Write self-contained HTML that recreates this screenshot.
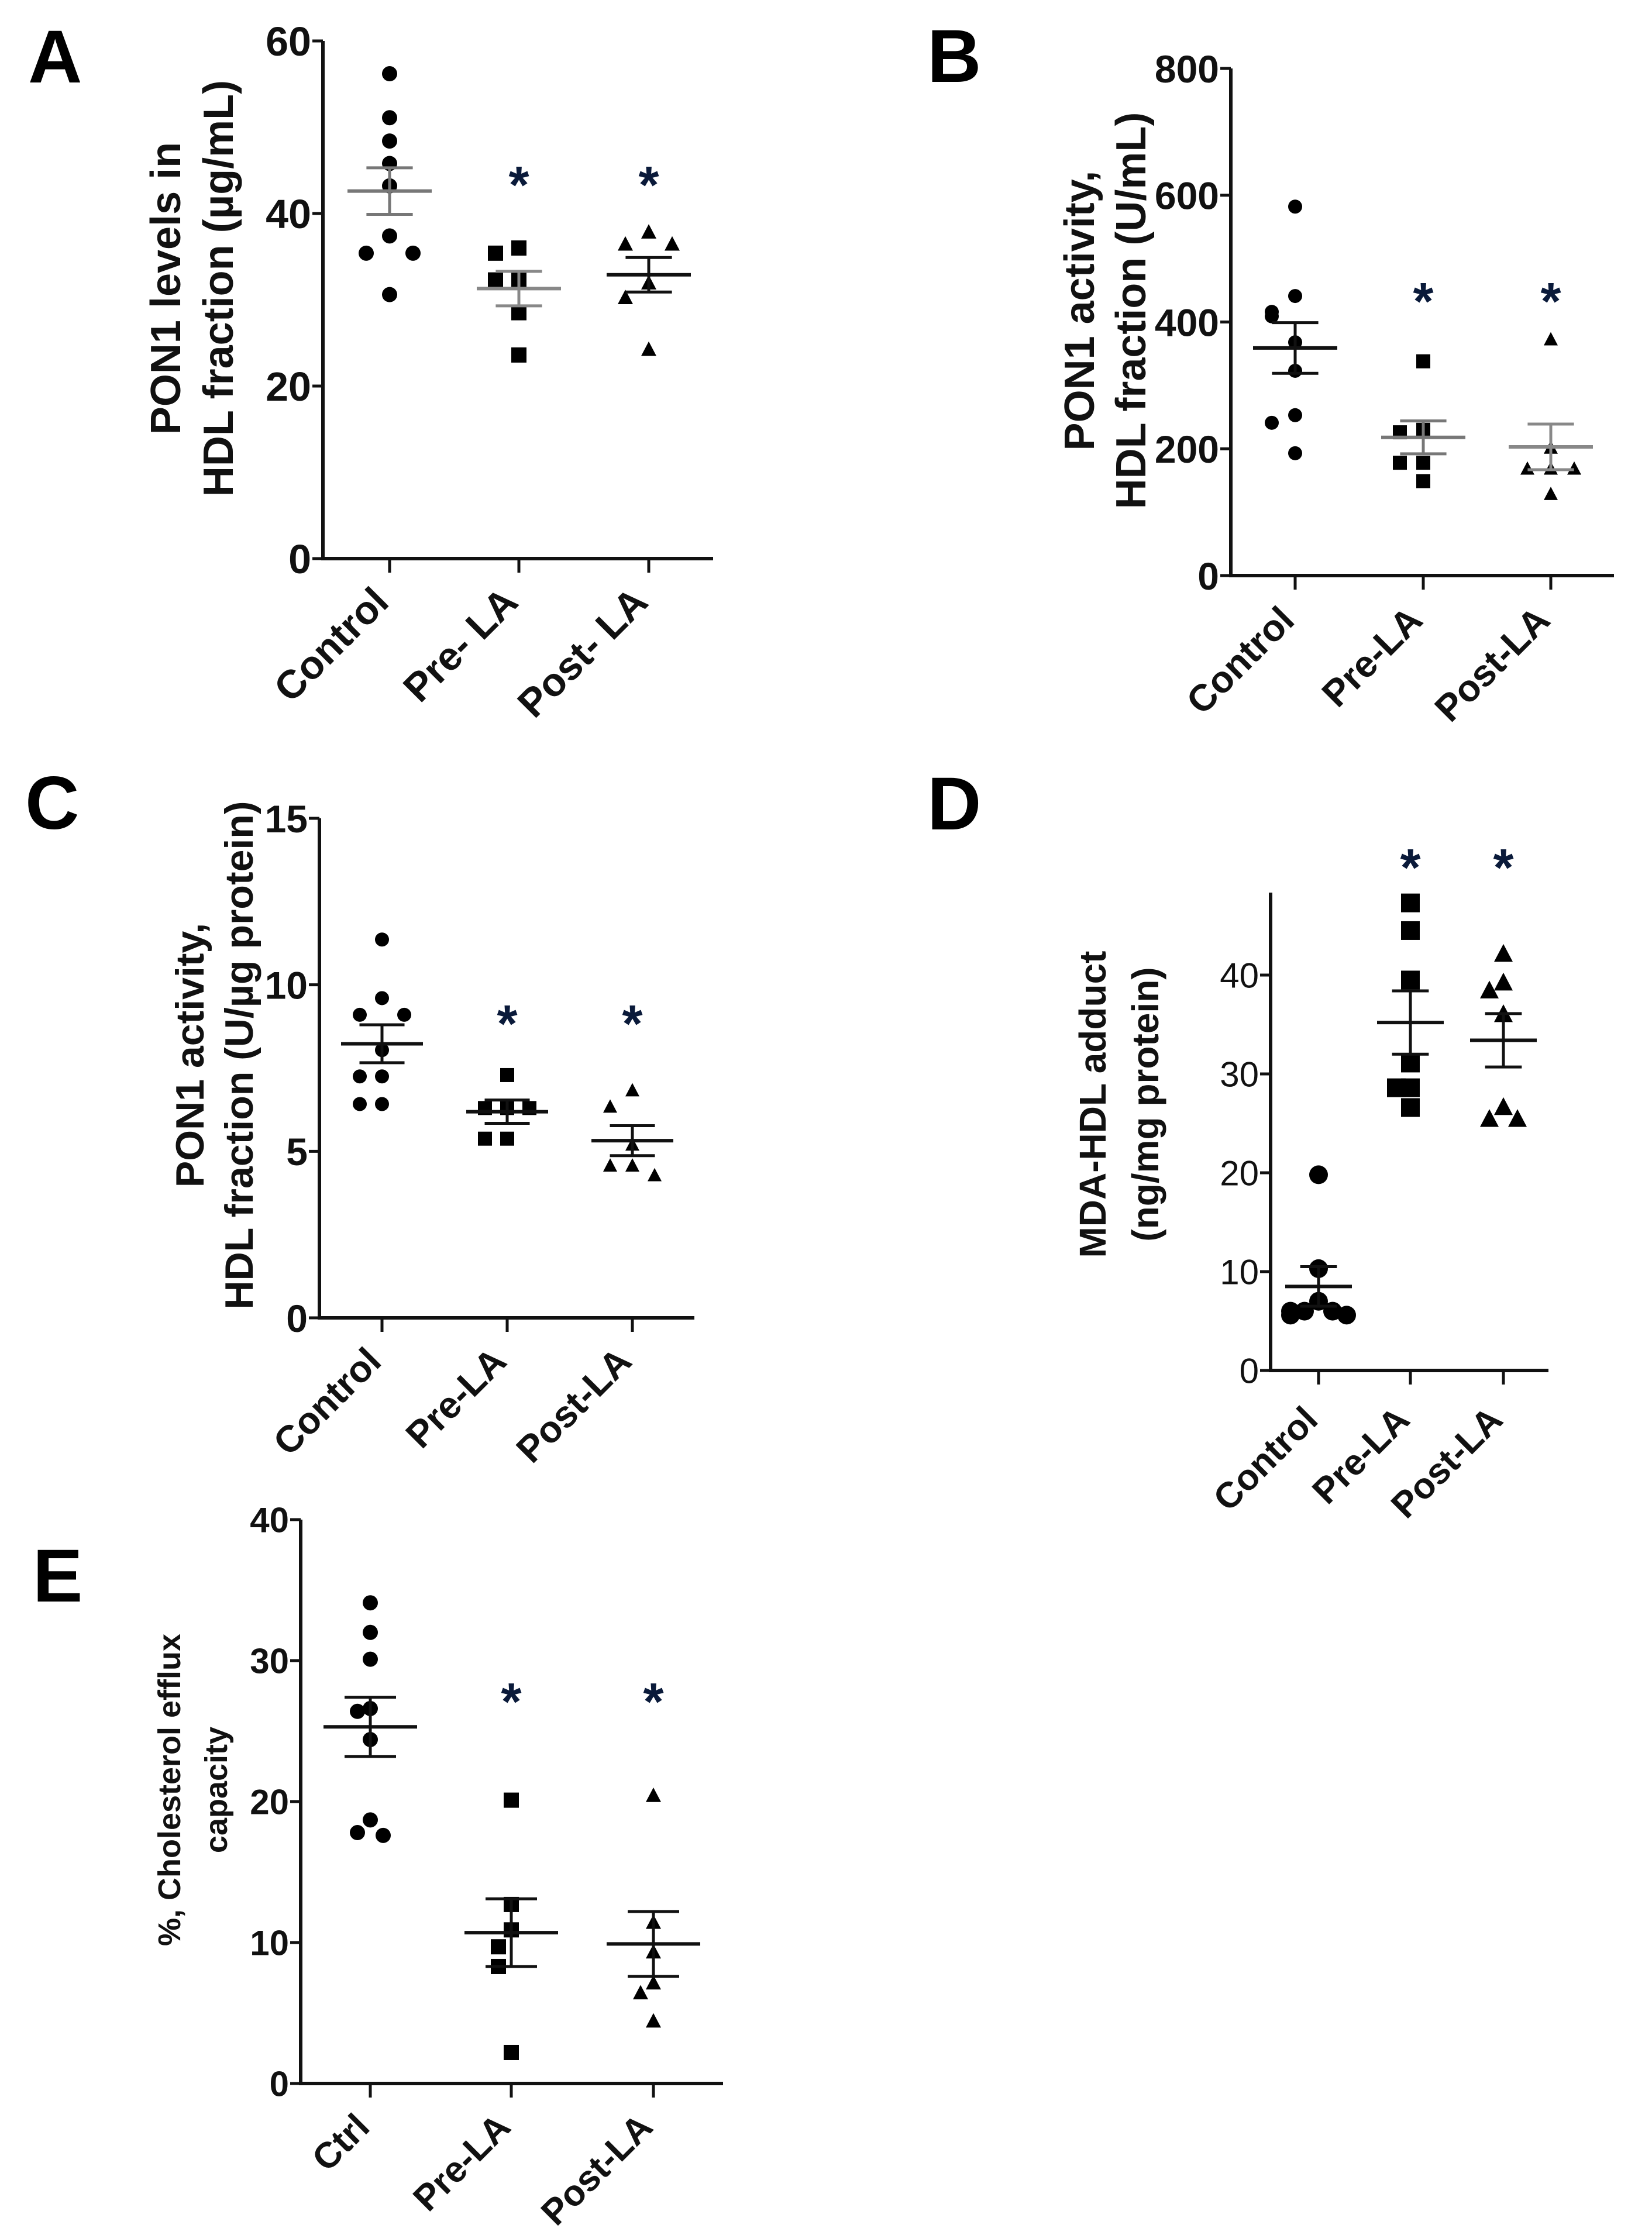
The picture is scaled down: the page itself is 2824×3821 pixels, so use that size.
<!DOCTYPE html>
<html><head><meta charset="utf-8">
<style>
html,body{margin:0;padding:0;background:#fff;}
svg{display:block;}
text{font-family:"Liberation Sans",Arial,sans-serif;}
</style></head>
<body>
<svg id="fig" width="2824" height="3821" viewBox="0 0 2824 3821" xmlns="http://www.w3.org/2000/svg"></svg>
<script>
// ---------- Panel A data ----------
const aCategories = ["Control", "Pre- LA", "Post- LA"];
const aControl = [56.2, 51.1, 48.4, 45.8, 43.2, 37.4, 35.4, 35.4, 30.6];
const aPre = [36.0, 35.4, 32.3, 32.3, 28.5, 23.6];
const aPost = [37.8, 36.4, 36.4, 31.9, 30.2, 24.2];
const aMean = [42.6, 31.3, 32.9];
const aSem = [2.7, 2.0, 2.0];
const aTicks = [0, 20, 40, 60];
// ---------- Panel B data ----------
const bCategories = ["Control", "Pre-LA", "Post-LA"];
const bControl = [582, 441, 416, 409, 368, 323, 253, 241, 193];
const bPre = [338, 230, 226, 178, 178, 149];
const bPost = [372, 201, 168, 168, 168, 128];
const bMean = [359, 218, 203];
const bSem = [40, 26, 36];
const bTicks = [0, 200, 400, 600, 800];
// ---------- Panel C data ----------
const cCategories = ["Control", "Pre-LA", "Post-LA"];
const cControl = [11.36, 9.6, 9.1, 9.1, 8.04, 7.25, 7.25, 6.42, 6.42];
const cPre = [7.29, 6.3, 6.3, 6.3, 5.38, 5.38];
const cPost = [6.82, 6.33, 5.19, 4.56, 4.56, 4.27];
const cMean = [8.23, 6.19, 5.32];
const cSem = [0.57, 0.35, 0.45];
const cTicks = [0, 5, 10, 15];
// ---------- Panel D data ----------
const dCategories = ["Control", "Pre-LA", "Post-LA"];
const dControl = [19.8, 10.3, 7.0, 6.0, 6.0, 6.0, 5.6, 5.6];
const dPre = [47.3, 44.5, 39.5, 31.1, 28.6, 28.6, 26.6];
const dPost = [42.1, 39.2, 38.4, 36.0, 26.6, 25.4, 25.4];
const dMean = [8.5, 35.2, 33.4];
const dSem = [2.0, 3.2, 2.7];
const dTicks = [0, 10, 20, 30, 40];
// ---------- Panel E data ----------
const eCategories = ["Ctrl", "Pre-LA", "Post-LA"];
const eControl = [34.1, 32.0, 30.1, 26.6, 26.4, 24.4, 18.7, 17.8, 17.6];
const ePre = [20.1, 12.7, 10.9, 9.7, 8.3, 2.2];
const ePost = [20.4, 11.4, 9.3, 7.1, 6.4, 4.4];
const eMean = [25.3, 10.7, 9.9];
const eSem = [2.1, 2.4, 2.3];
const eTicks = [0, 10, 20, 30, 40];

const NS = "http://www.w3.org/2000/svg";
const svg = document.getElementById("fig");
function mk(tag, attrs, parent) {
  const e = document.createElementNS(NS, tag);
  for (const k in attrs) e.setAttribute(k, attrs[k]);
  (parent || svg).appendChild(e);
  return e;
}

function panel(cfg) {
  const g = mk("g", {});
  
  
  const yMax = cfg.ticks[cfg.ticks.length - 1];
  const ys = v => cfg.y0 - (v / yMax) * (cfg.y0 - cfg.yTop);
  const xs = i => cfg.cx[i];
  const L = mk("text", {x: cfg.letterX, y: cfg.letterY, "font-size": 128, "font-weight": "bold", fill: "#000"}, g);
  L.textContent = cfg.letter;
  
  
  const ya = mk("line", {x1: cfg.ax, y1: cfg.axisTop || cfg.yTop, x2: cfg.ax, y2: cfg.y0, stroke: "#111", "stroke-width": 6}, g);
  
  
  const xa = mk("line", {x1: cfg.ax - 3, y1: cfg.y0, x2: cfg.axEnd, y2: cfg.y0, stroke: "#111", "stroke-width": 6}, g);
  
  
  cfg.ticks.forEach(t => {
    const y = ys(t);
    const tk = mk("line", {x1: cfg.ax - 18, y1: y, x2: cfg.ax, y2: y, stroke: "#111", "stroke-width": 5}, g);
    
    
    const tl = mk("text", {x: cfg.ax - 20, y: y + cfg.tickFont * 0.36, "font-size": cfg.tickFont, "font-weight": cfg.tickWeight || "bold", "text-anchor": "end", fill: "#111"}, g);
    tl.textContent = t;
    
    
  });
  cfg.cats.forEach((c, i) => {
    const x = xs(i);
    const tk = mk("line", {x1: x, y1: cfg.y0, x2: x, y2: cfg.y0 + 24, stroke: "#111", "stroke-width": 5}, g);
    
    
    const lx = x + 2, ly = cfg.y0 + cfg.catDy;
    const tl = mk("text", {x: lx, y: ly, "font-size": cfg.catFont, "font-weight": "bold", "text-anchor": "end", fill: "#111", transform: `rotate(-45 ${lx} ${ly})`}, g);
    tl.textContent = c;
    
    
  });
  const tt = mk("text", {transform: `translate(${cfg.titleX} ${cfg.titleY}) rotate(-90)`, "font-size": cfg.titleFont, "font-weight": "bold", "text-anchor": "middle", fill: "#111", "xml:space": "preserve"}, g);
  
  
  cfg.title.forEach((line, k) => {
    const ts = mk("tspan", {x: 0, y: k * cfg.titleGap}, tt);
    ts.textContent = line;
  });
  const tol = yMax * 0.035;
  cfg.series.forEach((vals, i) => {
    const placed = [];
    const offs = [0, -1, 1, -2, 2, -3, 3];
    vals.forEach(v => {
      const near = placed.filter(p => Math.abs(p - v) < tol).length;
      placed.push(v);
      const x = xs(i) + offs[near % offs.length] * cfg.jit;
      const y = ys(v);
      const r = cfg.mr;
      let m;
      if (i === 0) m = mk("circle", {cx: x, cy: y, r: r, fill: "#000"}, g);
      else if (i === 1) m = mk("rect", {x: x - r, y: y - r, width: 2 * r, height: 2 * r, fill: "#000"}, g);
      else m = mk("polygon", {points: `${x},${y - r * 1.1} ${x - r},${y + r * 0.8} ${x + r},${y + r * 0.8}`, fill: "#000"}, g);
      
      
    });
    const mx = xs(i), my = ys(cfg.mean[i]);
    const hi = ys(cfg.mean[i] + cfg.sem[i]), lo = ys(cfg.mean[i] - cfg.sem[i]);
    const col = cfg.meanCol[i];
    const ml = mk("line", {x1: mx - cfg.meanW, y1: my, x2: mx + cfg.meanW, y2: my, stroke: col, "stroke-width": 6}, g);
    
    
    const el = mk("line", {x1: mx, y1: hi, x2: mx, y2: lo, stroke: col, "stroke-width": 5}, g);
    
    
    [hi, lo].forEach(yy => {
      const c = mk("line", {x1: mx - cfg.meanW * 0.55, y1: yy, x2: mx + cfg.meanW * 0.55, y2: yy, stroke: col, "stroke-width": 5}, g);
      
      
    });
    if (i > 0) {
      const s = mk("text", {x: mx, y: cfg.starY + 40, "font-size": 90, "font-weight": "bold", "text-anchor": "middle", fill: "#0a1a3a"}, g);
      s.textContent = "*";
      
      
    }
  });
}

panel({letter: "A", letterX: 48, letterY: 141, ax: 552, yTop: 70, y0: 955, axEnd: 1219, cx: [666, 887, 1109],
  ticks: aTicks, tickFont: 70, cats: aCategories, catFont: 68, catDy: 78,
  title: ["PON1 levels in", "HDL fraction (\u00b5g/mL)"], titleX: 308, titleY: 493, titleFont: 72, titleGap: 90,
  series: [aControl, aPre, aPost], mean: aMean, sem: aSem, mr: 13, jit: 40, meanW: 72,
  meanCol: ["#777", "#888", "#111"], starY: 307});

panel({letter: "B", letterX: 1585, letterY: 140, ax: 2104, yTop: 117, y0: 984, axEnd: 2759, cx: [2214, 2433, 2651],
  ticks: bTicks, tickFont: 66, cats: bCategories, catFont: 64, catDy: 80,
  title: ["PON1 activity,", "HDL fraction  (U/mL)"], titleX: 1870, titleY: 531, titleFont: 72, titleGap: 88,
  series: [bControl, bPre, bPost], mean: bMean, sem: bSem, mr: 12, jit: 40, meanW: 72,
  meanCol: ["#111", "#777", "#888"], starY: 506});

panel({letter: "C", letterX: 43, letterY: 1417, ax: 546, yTop: 1399, y0: 2253, axEnd: 1187, cx: [653, 867, 1081],
  ticks: cTicks, tickFont: 66, cats: cCategories, catFont: 64, catDy: 78,
  title: ["PON1  activity,", "HDL fraction  (U/\u00b5g protein)"], titleX: 348, titleY: 1804, titleFont: 68, titleGap: 84,
  series: [cControl, cPre, cPost], mean: cMean, sem: cSem, mr: 12, jit: 38, meanW: 70,
  meanCol: ["#111", "#111", "#111"], starY: 1741});

panel({letter: "D", letterX: 1585, letterY: 1418, ax: 2172, axisTop: 1526, yTop: 1667, y0: 2343, axEnd: 2647, cx: [2254, 2411, 2570],
  ticks: dTicks, tickFont: 60, tickWeight: "normal", cats: dCategories, catFont: 62, catDy: 88,
  title: ["MDA-HDL   adduct", "(ng/mg protein)"], titleX: 1890, titleY: 1888, titleFont: 64, titleGap: 90,
  series: [dControl, dPre, dPost], mean: dMean, sem: dSem, mr: 16, jit: 24, meanW: 57,
  meanCol: ["#111", "#111", "#111"], starY: 1474});

panel({letter: "E", letterX: 56, letterY: 2738, ax: 514, yTop: 2598, y0: 3562, axEnd: 1236, cx: [633, 874, 1117],
  ticks: eTicks, tickFont: 60, cats: eCategories, catFont: 62, catDy: 78,
  title: ["%, Cholesterol efflux", "capacity"], titleX: 308, titleY: 3060, titleFont: 54, titleGap: 80,
  series: [eControl, ePre, ePost], mean: eMean, sem: eSem, mr: 13, jit: 22, meanW: 80,
  meanCol: ["#111", "#111", "#111"], starY: 2900});
</script>
</body></html>
